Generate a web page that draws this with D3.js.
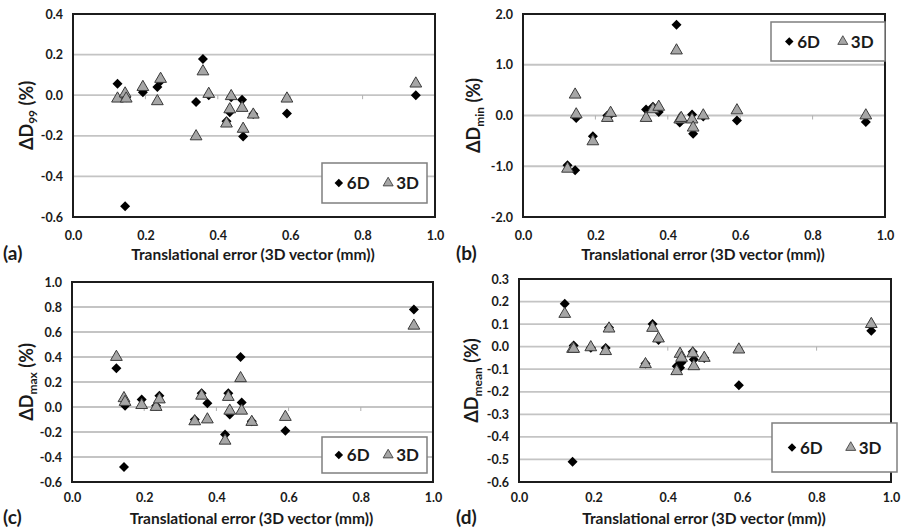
<!DOCTYPE html>
<html>
<head>
<meta charset="UTF-8">
<title>Dose differences vs translational error</title>
<script src="https://cdn.jsdelivr.net/npm/d3@7"></script>
<style>
  body { margin: 0; background: #fff; }
  svg text { font-family: Lato, "Liberation Sans", sans-serif; font-weight: bold; fill: #1a1a1a; }
</style>
</head>
<body>
<svg id="chart" width="901" height="529"></svg>
<script>
// translational error per patient (3D vector, mm)
const transError = [0.123, 0.144, 0.147, 0.193, 0.233, 0.242, 0.340, 0.359, 0.375, 0.424, 0.433, 0.437, 0.467, 0.470, 0.498, 0.591, 0.947];

const d99_6D  = [0.057, -0.547, -0.010, 0.014, 0.040, 0.070, -0.034, 0.178, 0.000, -0.128, -0.084, -0.010, -0.022, -0.203, -0.093, -0.090, 0.000];
const d99_3D  = [-0.017, 0.008, -0.017, 0.040, -0.030, 0.080, -0.203, 0.117, 0.006, -0.140, -0.070, -0.005, -0.063, -0.166, -0.096, -0.017, 0.057];

const dmin_6D = [-0.98, -1.08, -0.05, -0.41, 0.00, 0.02, 0.12, 0.17, 0.07, 1.79, -0.14, -0.10, 0.02, -0.36, -0.02, -0.10, -0.13];
const dmin_3D = [-1.05, 0.41, 0.02, -0.51, -0.05, 0.05, -0.05, 0.12, 0.17, 1.28, -0.08, -0.05, -0.08, -0.24, 0.00, 0.10, 0.00];

const dmax_6D = [0.31, -0.48, 0.01, 0.06, 0.01, 0.09, -0.10, 0.11, 0.03, -0.22, 0.11, -0.06, 0.40, 0.035, -0.115, -0.19, 0.78];
const dmax_3D = [0.40, 0.07, 0.04, 0.015, 0.00, 0.06, -0.115, 0.09, -0.10, -0.27, 0.08, -0.03, 0.23, -0.03, -0.12, -0.08, 0.65];

const dmean_6D = [0.19, -0.51, 0.005, -0.005, -0.006, 0.085, -0.075, 0.10, 0.03, -0.087, -0.094, -0.07, -0.023, -0.057, -0.05, -0.171, 0.071];
const dmean_3D = [0.145, -0.01, -0.01, -0.003, -0.02, 0.08, -0.078, 0.083, 0.036, -0.109, -0.032, -0.05, -0.03, -0.087, -0.05, -0.013, 0.10];

const xTicks = [0, 0.2, 0.4, 0.6, 0.8, 1.0];
const d99Ticks = [0.4, 0.2, 0, -0.2, -0.4, -0.6];
const dminTicks = [2, 1, 0, -1, -2];
const dmaxTicks = [1.0, 0.8, 0.6, 0.4, 0.2, 0, -0.2, -0.4, -0.6];
const dmeanTicks = [0.3, 0.2, 0.1, 0, -0.1, -0.2, -0.3, -0.4, -0.5, -0.6];

const seriesNames = ['6D', '3D'];

const panels = [
  { tag: '(a)', sub: '99', v6: d99_6D, v3: d99_3D, ticks: d99Ticks,
    left: 73, right: 435, top: 14, bottom: 217, titleX: 27, tagX: 3, titleDy: 43, pad: 14,
    legend: { x: 322, y: 163, w: 105, h: 40 } },
  { tag: '(b)', sub: 'min', v6: dmin_6D, v3: dmin_3D, ticks: dminTicks,
    left: 523, right: 885, top: 14, bottom: 217, titleX: 474, tagX: 456, titleDy: 43, pad: 14,
    legend: { x: 771, y: 22, w: 114, h: 39 } },
  { tag: '(c)', sub: 'max', v6: dmax_6D, v3: dmax_3D, ticks: dmaxTicks,
    left: 72, right: 433, top: 282, bottom: 482, titleX: 27, tagX: 3, titleDy: 42, pad: 11,
    legend: { x: 322, y: 437, w: 105, h: 36 } },
  { tag: '(d)', sub: 'mean', v6: dmean_6D, v3: dmean_3D, ticks: dmeanTicks,
    left: 519, right: 891, top: 279, bottom: 482, titleX: 472, tagX: 456, titleDy: 42, pad: 11,
    legend: { x: 772, y: 423, w: 125, h: 49 } }
];

const svg = d3.select('#chart');
const fmt = d => d.toFixed(1);
const diamond = d3.symbol().type(d3.symbolSquare).size(50);
const triangle = d3.symbol().type(d3.symbolTriangle).size(60);

panels.forEach(p => {
  const g = svg.append('g');
  const x = d3.scaleLinear().domain([0, 1]).range([p.left, p.right]);
  const y = d3.scaleLinear().domain(d3.extent(p.ticks)).range([p.bottom, p.top]);

  // horizontal gridlines
  g.selectAll('.grid')
    .data(p.ticks.slice(1, -1))
    .enter()
    .append('line')
    .attr('x1', p.left).attr('x2', p.right)
    .attr('y1', d => y(d)).attr('y2', d => y(d))
    .attr('stroke', '#c4c4c4')
    .attr('stroke-width', 1.8);

  // horizontal axis crossing at zero, small tick marks
  g.selectAll('.zt')
    .data(xTicks.slice(1, -1))
    .enter()
    .append('line')
    .attr('x1', d => x(d)).attr('x2', d => x(d))
    .attr('y1', y(0)).attr('y2', y(0) + 4)
    .attr('stroke', '#b0b0b0')
    .attr('stroke-width', 1);

  // y axis labels
  const yAxis = d3.axisLeft(y).tickValues(p.ticks).tickSize(0).tickPadding(10).tickFormat(fmt);
  g.append('g')
    .attr('transform', `translate(${p.left},0)`)
    .call(yAxis)
    .call(a => a.select('.domain').remove())
    .selectAll('text')
    .style('font-size', '12.5px');

  // x axis labels
  const xAxis = d3.axisBottom(x).tickValues(xTicks).tickSize(0).tickPadding(p.pad).tickFormat(fmt);
  g.append('g')
    .attr('transform', `translate(0,${p.bottom})`)
    .call(xAxis)
    .call(a => a.select('.domain').remove())
    .selectAll('text')
    .style('font-size', '12.5px');

  // plot frame
  g.append('rect')
    .attr('x', p.left).attr('y', p.top)
    .attr('width', p.right - p.left).attr('height', p.bottom - p.top)
    .attr('fill', 'none')
    .attr('stroke', '#1c1c1c')
    .attr('stroke-width', 2);

  // points: 6D diamonds under 3D triangles
  g.selectAll('.d6')
    .data(p.v6)
    .enter()
    .append('path')
    .attr('d', diamond)
    .attr('transform', (d, i) => `translate(${x(transError[i])},${y(d)}) rotate(45)`)
    .attr('fill', '#000');

  g.selectAll('.d3')
    .data(p.v3)
    .enter()
    .append('path')
    .attr('d', triangle)
    .attr('transform', (d, i) => `translate(${x(transError[i])},${y(d)})`)
    .attr('fill', '#a6a6a6')
    .attr('stroke', '#3a3a3a')
    .attr('stroke-width', 1);

  // legend
  const L = p.legend;
  const lg = g.append('g').attr('transform', `translate(${L.x},${L.y})`);
  lg.append('rect')
    .attr('width', L.w).attr('height', L.h)
    .attr('fill', '#fff')
    .attr('stroke', '#7f7f7f')
    .attr('stroke-width', 1.5);
  const cy = L.h / 2;
  const step = L.w * 0.47;
  seriesNames.forEach((name, i) => {
    const sx = L.w * 0.16 + i * step;
    lg.append('path')
      .attr('d', i === 0 ? diamond : triangle)
      .attr('transform', `translate(${sx},${cy}) ${i === 0 ? 'rotate(45)' : ''} scale(0.85)`)
      .attr('fill', i === 0 ? '#000' : '#a6a6a6')
      .attr('stroke', i === 0 ? 'none' : '#3a3a3a');
    lg.append('text')
      .attr('x', sx + 8).attr('y', cy + 6)
      .style('font-size', '17px')
      .text(name);
  });

  // axis titles
  g.append('text')
    .attr('x', (p.left + p.right) / 2 - 1)
    .attr('y', p.bottom + p.titleDy)
    .attr('text-anchor', 'middle')
    .style('font-size', '15.5px')
    .text('Translational error (3D vector (mm))');

  const yt = g.append('text')
    .attr('transform', `translate(${p.titleX + 6},${(p.top + p.bottom) / 2}) rotate(-90)`)
    .attr('text-anchor', 'middle')
    .style('font-size', '18px');
  yt.append('tspan').text('\u0394D');
  yt.append('tspan').attr('dy', 4).style('font-size', '12px').text(p.sub);
  yt.append('tspan').attr('dy', -4).text(' (%)');

  // panel tag
  g.append('text')
    .attr('x', p.tagX).attr('y', p.bottom + p.titleDy)
    .style('font-size', '19px')
    .text(p.tag);
});
</script>
</body>
</html>
